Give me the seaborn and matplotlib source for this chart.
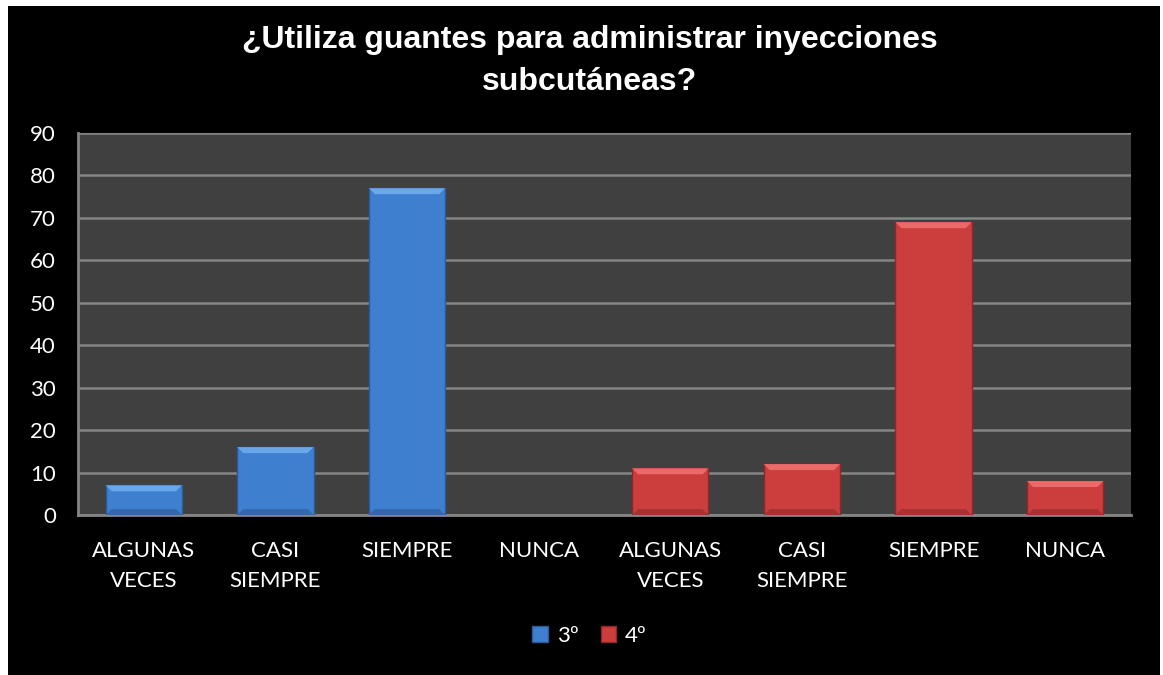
import matplotlib
matplotlib.use("Agg")
import matplotlib.pyplot as plt
from matplotlib.patches import Rectangle, Patch, Polygon
import seaborn as sns
import pandas as pd

# Data
respuestas = ["ALGUNAS\nVECES", "CASI\nSIEMPRE", "SIEMPRE", "NUNCA"]
curso_3 = [7, 16, 77, 0]
curso_4 = [11, 12, 69, 8]
series = ["3º", "4º"]
title = "¿Utiliza guantes para administrar inyecciones\nsubcutáneas?"

rows = []
for s, vals in zip(series, [curso_3, curso_4]):
    for r, v in zip(respuestas, vals):
        rows.append({"key": f"{s}|{r}", "resp": r, "serie": s, "valor": v})
df = pd.DataFrame(rows)
order = list(df["key"])

sns.set_theme(style="dark")
plt.rcParams["font.family"] = ["Lato", "DejaVu Sans"]

fig = plt.figure(figsize=(11.63, 6.75), dpi=100)
fig.patch.set_facecolor("white")
bg = Rectangle((8 / 1163, 0), (1160 - 8) / 1163, 669 / 675,
               transform=fig.transFigure, facecolor="black",
               edgecolor="none", zorder=-10)
fig.patches.append(bg)

ax = fig.add_axes([78 / 1163, 1 - 515 / 675, (1131 - 78) / 1163, (515 - 133) / 675])
ax.set_zorder(1)
ax.set_facecolor("#404040")

palette = {"3º": "#3F7FCF", "4º": "#CC3E3E"}
edges = {"3º": "#2A5A99", "4º": "#8E2828"}
lights = {"3º": "#6AA6EA", "4º": "#EA6A6A"}
darks = {"3º": "#3368AE", "4º": "#A83232"}
sns.barplot(data=df, x="key", y="valor", hue="serie", order=order,
            palette=palette, dodge=False, width=0.58, ax=ax, legend=False,
            saturation=1, zorder=3)
ax.set_ylim(0, 90)
ax.set_xlim(-0.5, len(order) - 0.5)

# bevel decoration derived from each bar's own geometry
bev_y = 6 * 90 / 382          # ~6 px in data units
bev_x = 6 * len(order) / 1053  # ~6 px in data units
for p, s in zip(list(ax.patches), list(df["serie"])):
    h = p.get_height()
    if h <= 0:
        p.set_linewidth(0)
        p.set_edgecolor("none")
        continue
    p.set_edgecolor(edges[s])
    p.set_linewidth(1.0)
    x0, w = p.get_x(), p.get_width()
    by = min(bev_y, h / 3)
    top = Polygon([(x0, h), (x0 + w, h), (x0 + w - bev_x, h - by), (x0 + bev_x, h - by)],
                  closed=True, facecolor=lights[s], edgecolor="none", zorder=4)
    bot = Polygon([(x0, 0), (x0 + w, 0), (x0 + w - bev_x, by), (x0 + bev_x, by)],
                  closed=True, facecolor=darks[s], edgecolor="none", zorder=4)
    ax.add_patch(top)
    ax.add_patch(bot)

ax.set_yticks(range(0, 91, 10))
ax.set_xticks(range(len(order)))
ax.set_xticklabels(list(df["resp"]), color="white", fontsize=16, linespacing=1.6)
ax.tick_params(axis="y", colors="white", labelsize=16, length=0, pad=16)
ax.tick_params(axis="x", colors="white", length=0, pad=19)
for lbl in ax.get_yticklabels():
    lbl.set_color("white")
ax.set_xlabel("")
ax.set_ylabel("")
ax.grid(axis="y", color="#858585", linewidth=1.8, zorder=1)
ax.grid(axis="x", visible=False)
ax.set_axisbelow(True)
for side in ["top", "right"]:
    ax.spines[side].set_visible(False)
for side in ["left", "bottom"]:
    ax.spines[side].set_visible(True)
    ax.spines[side].set_color("#858585")
    ax.spines[side].set_linewidth(2)

fig.text(0.507, 1 - 61 / 675, title, ha="center", va="center", color="white",
         fontsize=23, fontweight="bold", family=["Liberation Sans", "DejaVu Sans"],
         linespacing=1.55)

handles = [Patch(facecolor=palette[s], edgecolor=edges[s], label=s) for s in series]
leg = fig.legend(handles=handles, loc="center", bbox_to_anchor=(0.507, 1 - 636 / 675),
                 ncol=2, frameon=False, fontsize=16, handlelength=0.7, handleheight=0.7,
                 handletextpad=0.4, columnspacing=1.0)
for t in leg.get_texts():
    t.set_color("white")

fig.savefig("out.png", dpi=100, facecolor=fig.get_facecolor())
